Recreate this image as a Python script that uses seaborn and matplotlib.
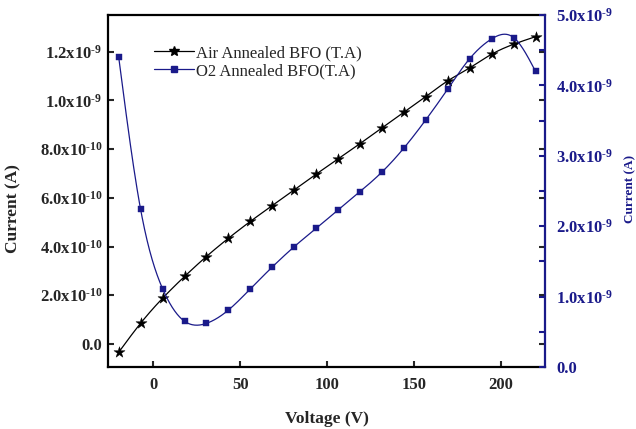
import numpy as np
import pandas as pd
import matplotlib
matplotlib.use("Agg")
import matplotlib.pyplot as plt
from matplotlib.lines import Line2D
import seaborn as sns

# ---- data ----
voltage = [-20.0, -7.4, 5.3, 17.9, 30.5, 43.2, 55.8, 68.4, 81.1, 93.7,
           106.3, 118.9, 131.6, 144.2, 156.8, 169.5, 182.1, 194.7, 207.4, 220.0]
air_current = [-0.34e-10, 0.85e-10, 1.88e-10, 2.77e-10, 3.59e-10, 4.34e-10, 5.03e-10,
               5.68e-10, 6.33e-10, 6.97e-10, 7.59e-10, 8.22e-10, 8.87e-10, 9.51e-10,
               10.15e-10, 10.80e-10, 11.33e-10, 11.89e-10, 12.30e-10, 12.61e-10]
o2_current = [4.40e-9, 2.24e-9, 1.11e-9, 0.65e-9, 0.62e-9, 0.81e-9, 1.11e-9, 1.42e-9,
              1.71e-9, 1.97e-9, 2.23e-9, 2.49e-9, 2.77e-9, 3.11e-9, 3.51e-9, 3.95e-9,
              4.38e-9, 4.66e-9, 4.68e-9, 4.20e-9]
series_labels = ["Air Annealed BFO (T.A)", "O2 Annealed BFO(T.A)"]
x_ticks = [0, 50, 100, 150, 200]
left_ticks = [0.0, 2e-10, 4e-10, 6e-10, 8e-10, 1.0e-9, 1.2e-9]
left_labels = ["0.0", r"2.0x10$^{\text{-}10}$", r"4.0x10$^{\text{-}10}$", r"6.0x10$^{\text{-}10}$",
               r"8.0x10$^{\text{-}10}$", r"1.0x10$^{\text{-}9}$", r"1.2x10$^{\text{-}9}$"]
right_ticks = [0.0, 1e-9, 2e-9, 3e-9, 4e-9, 5e-9]
right_labels = ["0.0", r"1.0x10$^{\text{-}9}$", r"2.0x10$^{\text{-}9}$", r"3.0x10$^{\text{-}9}$",
                r"4.0x10$^{\text{-}9}$", r"5.0x10$^{\text{-}9}$"]


def natural_spline(x, y, n=500):
    x = np.asarray(x, float)
    y = np.asarray(y, float)
    k = len(x)
    h = np.diff(x)
    A = np.zeros((k, k))
    b = np.zeros(k)
    A[0, 0] = 1.0
    A[-1, -1] = 1.0
    for i in range(1, k - 1):
        A[i, i - 1] = h[i - 1]
        A[i, i] = 2 * (h[i - 1] + h[i])
        A[i, i + 1] = h[i]
        b[i] = 6 * ((y[i + 1] - y[i]) / h[i] - (y[i] - y[i - 1]) / h[i - 1])
    M = np.linalg.solve(A, b)
    xs = np.linspace(x[0], x[-1], n)
    idx = np.clip(np.searchsorted(x, xs) - 1, 0, k - 2)
    x0, x1 = x[idx], x[idx + 1]
    hh = x1 - x0
    a = (x1 - xs) / hh
    bb = (xs - x0) / hh
    ys = (a * y[idx] + bb * y[idx + 1]
          + ((a ** 3 - a) * M[idx] + (bb ** 3 - bb) * M[idx + 1]) * hh ** 2 / 6)
    return xs, ys


sns.set_theme(style="ticks")
plt.rcParams["font.family"] = ["Liberation Serif", "DejaVu Serif"]
plt.rcParams["mathtext.fontset"] = "custom"
plt.rcParams["mathtext.rm"] = "Liberation Serif:bold"
plt.rcParams["mathtext.bf"] = "Liberation Serif:bold"
plt.rcParams["mathtext.default"] = "bf"

NAVY = "#1a1a8a"

fig = plt.figure(figsize=(6.36, 4.29), dpi=100)
ax = fig.add_axes([0.170, 0.1445, 0.687, 0.8205])
ax2 = ax.twinx()

df = pd.DataFrame({"V": voltage, "air": air_current, "o2": o2_current})
xs_a, ys_a = natural_spline(voltage, air_current)
xs_o, ys_o = natural_spline(voltage, o2_current)

sns.lineplot(x=xs_a, y=ys_a, ax=ax, color="black", linewidth=0.9, legend=False)
sns.scatterplot(data=df, x="V", y="air", ax=ax, marker="*", s=70, color="black",
                edgecolor="black", linewidth=0.3, legend=False, zorder=3)
sns.lineplot(x=xs_o, y=ys_o, ax=ax2, color=NAVY, linewidth=0.9, legend=False)
sns.scatterplot(data=df, x="V", y="o2", ax=ax2, marker="s", s=22, color=NAVY,
                edgecolor=NAVY, linewidth=0.3, legend=False, zorder=3)

ax.set_xlim(-26.1, 225.5)
ax.set_ylim(-0.945e-10, 13.5e-10)
ax2.set_ylim(0, 5e-9)

ax.set_xticks(x_ticks)
ax.set_xticklabels([str(t) for t in x_ticks], fontsize=12, fontweight="bold")
ax.set_yticks(left_ticks)
ax.set_yticklabels(left_labels, fontsize=12, fontweight="bold")
ax2.set_yticks(right_ticks)
ax2.set_yticklabels(right_labels, fontsize=12, fontweight="bold", color=NAVY)
ax2.set_yticks([0.5e-9, 1.5e-9, 2.5e-9, 3.5e-9, 4.5e-9], minor=True)

ax.tick_params(axis="x", direction="in", length=4, width=1.5, pad=7, top=False)
ax.tick_params(axis="y", direction="in", length=4, width=1.5, pad=4, right=True)
for t in ax.yaxis.get_major_ticks():
    t.tick2line.set_color(NAVY)
ax2.tick_params(axis="y", which="both", direction="in", length=4, width=1.5,
                pad=8, colors=NAVY)

for s in ["left", "bottom", "top"]:
    ax.spines[s].set_linewidth(1.6)
    ax.spines[s].set_color("black")
ax.spines["right"].set_visible(False)
ax2.spines["right"].set_color(NAVY)
ax2.spines["right"].set_linewidth(1.6)
ax2.spines["left"].set_visible(False)
ax2.spines["top"].set_visible(False)
ax2.spines["bottom"].set_visible(False)

ax.set_xlabel("Voltage (V)", fontsize=12.5, fontweight="bold", labelpad=13)
ax.set_ylabel("Current (A)", fontsize=12.5, fontweight="bold")
ax.yaxis.set_label_coords(-0.199, 0.449)
ax2.set_ylabel("Current (A)", fontsize=9.5, fontweight="bold", color=NAVY)
ax2.yaxis.set_label_coords(1.181, 0.506)

handles = [
    Line2D([], [], color="black", linewidth=0.9, marker="*", markersize=7),
    Line2D([], [], color=NAVY, linewidth=0.9, marker="s", markersize=4.5),
]
ax.legend(handles, series_labels, loc="upper left", bbox_to_anchor=(0.105, 0.915),
          frameon=False, fontsize=12, handlelength=2.4, handletextpad=0.15,
          labelspacing=0.12, borderpad=0, borderaxespad=0)

fig.savefig("out.png", dpi=100, facecolor="white")
